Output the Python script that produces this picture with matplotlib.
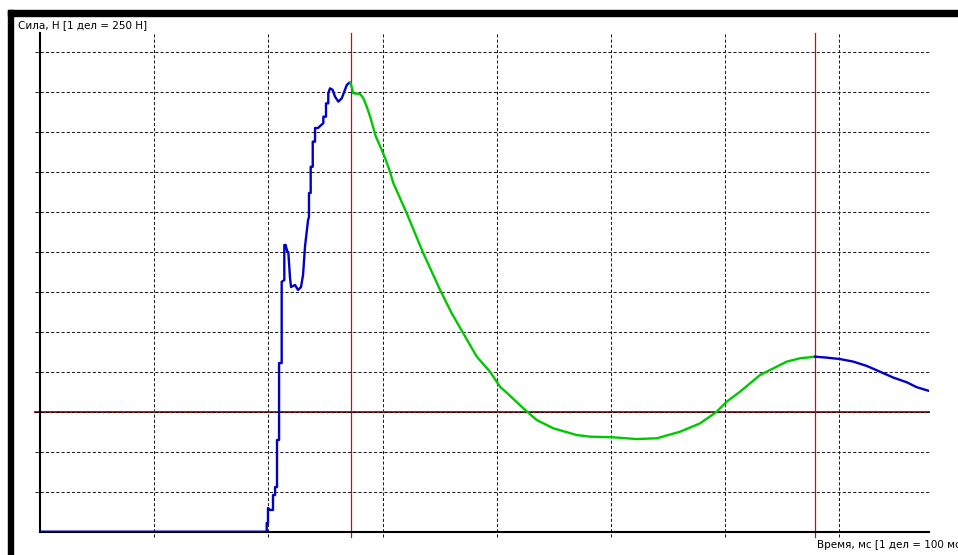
import matplotlib
matplotlib.use("Agg")
import matplotlib.pyplot as plt
from matplotlib.patches import Rectangle

# time in ms, force in N
rise_t = [0, 198.6, 198.6, 199.7, 199.7, 201.5, 204.1, 204.1, 205.9, 205.9, 207.6, 207.6,
          209.4, 209.4, 211.7, 211.7, 214.0, 214.0, 215.2, 216.6, 217.5, 219.0, 219.9,
          223.4, 226.0, 228.6, 230.4, 232.1, 234.8, 235.6, 235.6, 237.1, 237.1, 238.9,
          238.9, 240.9, 240.9, 243.5, 248.2, 248.2, 250.5, 250.5, 252.5, 252.5, 254.0,
          256.4, 258.4, 261.3, 264.3, 266.5, 268.7, 270.9, 272.0]
rise_f = [-750, -750, -696, -696, -602, -614, -614, -521, -521, -471, -471, -177,
          -177, 304, 304, 812, 823, 1042, 1042, 1000, 998, 836, 779,
          792, 761, 779, 854, 1031, 1198, 1217, 1367, 1367, 1531, 1531,
          1688, 1688, 1773, 1773, 1804, 1844, 1844, 1927, 1927, 1990, 2021,
          2011, 1969, 1938, 1959, 2000, 2042, 2056, 2056]

mid_t = [272.0, 274.4, 280.3, 283.2, 286.2, 289.1, 294.0, 297.8, 302.2, 306.0, 309.5,
         321.2, 335.7, 350.4, 360.6, 370.7, 382.5, 394.1, 402.9, 409.9, 423.3, 435.0,
         449.6, 470.1, 481.7, 502.1, 522.6, 540.1, 560.5, 578.0, 592.6, 601.4, 613.0,
         630.5, 642.2, 653.9, 665.6, 678.7]
mid_f = [2056, 1990, 1986, 1959, 1906, 1845, 1722, 1661, 1586, 1511, 1428,
         1240, 990, 761, 615, 490, 344, 250, 156, 111, 21, -52,
         -104, -146, -156, -160, -171, -166, -125, -73, 0, 63, 125,
         229, 271, 313, 334, 344]

tail_t = [678.7, 688.9, 700.6, 712.2, 724.0, 735.6, 747.3, 759.0, 767.8, 778.0]
tail_f = [344, 338, 329, 313, 286, 250, 213, 184, 153, 131]

markers_t = [272.0, 678.7]
grid_t = [100, 200, 300, 400, 500, 600, 700]
grid_f = [-500, -250, 250, 500, 750, 1000, 1250, 1500, 1750, 2000, 2250]

blue = "#0000c8"
green = "#00c800"
red = "#c01010"

fig = plt.figure(figsize=(9.58, 5.55), dpi=100)
ax = fig.add_axes([0.04165, 0.04198, 0.9281, 0.8986])
ax.set_xlim(0, 778.5)
ax.set_ylim(-750, 2367)

dash = (0, (3, 2))
for f in grid_f:
    ax.axhline(f, xmin=-0.006, xmax=1, color="#202020", lw=0.75, ls=dash, clip_on=False, zorder=1)
for t in grid_t:
    ax.axvline(t, ymin=-0.011, ymax=1, color="#202020", lw=0.75, ls=dash, clip_on=False, zorder=1)

ax.axhline(0, xmin=-0.006, color=red, lw=1.4, clip_on=False, zorder=1.5)
ax.axhline(0, xmin=-0.006, color="black", lw=0.75, ls=dash, clip_on=False, zorder=1.6)
for t in markers_t:
    ax.axvline(t, ymin=-0.011, color=red, lw=0.9, clip_on=False, zorder=1.5)

ax.plot(rise_t, rise_f, color=blue, lw=1.7, zorder=3)
ax.plot(mid_t, mid_f, color=green, lw=1.7, zorder=3)
ax.plot(tail_t, tail_f, color=blue, lw=1.7, zorder=3)

for side in ["top", "right"]:
    ax.spines[side].set_visible(False)
ax.spines["left"].set_linewidth(1.5)
ax.spines["bottom"].set_linewidth(1.5)
ax.set_xticks([])
ax.set_yticks([])

# black frame bands of the window
fig.patches.append(Rectangle((8 / 958, 0), 5 / 958, 545 / 555, transform=fig.transFigure,
                             color="black", zorder=0))
fig.patches.append(Rectangle((8 / 958, 539 / 555), 950 / 958, 6 / 555, transform=fig.transFigure,
                             color="black", zorder=0))

fig.text(18 / 958, 1 - 25 / 555, "Сила, Н [1 дел = 250 Н]", fontsize=7.5, va="center", ha="left")
# the reference window cuts this label off at its right edge
fig.text(817 / 958, 1 - 545 / 555, "Время, мс [1 дел = 100 мс]", fontsize=7.5, va="center", ha="left")

fig.savefig("out.png", dpi=100)
